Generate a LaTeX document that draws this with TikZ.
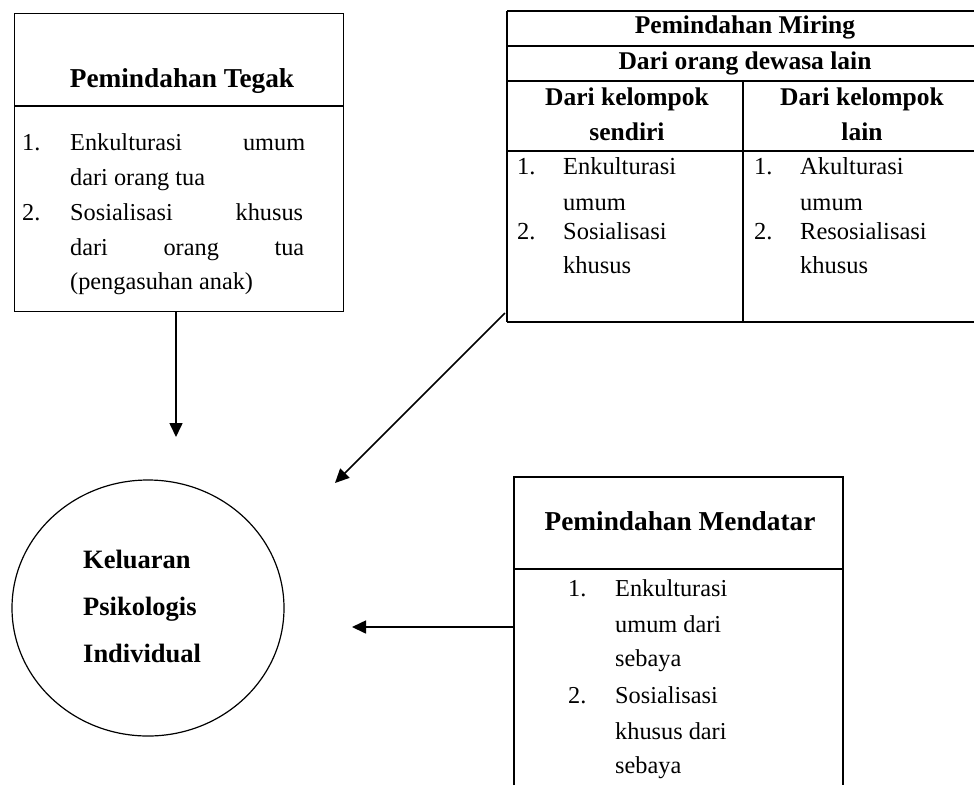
\documentclass[tikz,border=0pt]{standalone}
\usepackage{fontspec}
\setmainfont{Liberation Serif}
\usetikzlibrary{arrows.meta,shapes.geometric}
\begin{document}
\begin{tikzpicture}[x=1pt,y=-1pt,
  boxline/.style={line width=1.2pt},
  frame/.style={draw, line width=1.2pt, inner sep=0pt, anchor=north west},
  ghost/.style={inner sep=0pt, anchor=north west},
  itm/.style={anchor=base west, inner sep=0pt, font=\fontsize{24.3}{30}\selectfont},
  tim/.style={anchor=base west, inner sep=0pt, font=\fontsize{24.5}{30}\selectfont},
  head/.style={anchor=base, inner sep=0pt, font=\bfseries\fontsize{27.3}{30}\selectfont},
  thead/.style={anchor=base, inner sep=0pt, font=\bfseries\fontsize{25.5}{30}\selectfont},
  ctxt/.style={anchor=base west, inner sep=0pt, font=\bfseries\fontsize{26.5}{30}\selectfont},
  arr/.style={-{Triangle[length=14pt,width=13pt]}, line width=1.6pt}]
\useasboundingbox (0,0) rectangle (974,785);

% ---- Pemindahan Tegak ----
\node[frame, minimum width=329pt, minimum height=298pt] (tegak) at (14,13) {};
\draw[boxline] (14,106) -- (343,106);
\node[head] (tegakT) at (182,87) {Pemindahan Tegak};
\node[itm] (t1n) at (22,150) {1.};
\node[itm] (t1a) at (70,150) {\hbox to 235pt{Enkulturasi\hfill umum}};
\node[itm] (t1b) at (70,185) {dari orang tua};
\node[itm] (t2n) at (22,220) {2.};
\node[itm] (t2a) at (70,220) {\hbox to 233pt{Sosialisasi\hfill khusus}};
\node[itm] (t2b) at (70,255) {\hbox to 234pt{dari\hfill orang\hfill tua}};
\node[itm] (t2c) at (70,289) {(pengasuhan anak)};

% ---- Pemindahan Miring ----
\node[ghost, minimum width=467pt, minimum height=311pt] (miring) at (507,11) {};
\draw[boxline] (507,11) -- (974,11);
\draw[boxline] (507,46) -- (974,46);
\draw[boxline] (507,81) -- (974,81);
\draw[boxline] (507,151) -- (974,151);
\draw[boxline] (507,322) -- (974,322);
\draw[boxline] (507,11) -- (507,322);
\draw[boxline] (743,81) -- (743,322);
\node[thead] (mT1) at (745,33) {Pemindahan Miring};
\node[thead] (mT2) at (745,69) {Dari orang dewasa lain};
\node[thead] (mL1) at (627,105) {Dari kelompok};
\node[thead] (mL2) at (627,140) {sendiri};
\node[thead] (mR1) at (862,105) {Dari kelompok};
\node[thead] (mR2) at (862,140) {lain};
\node[tim] (ml1n) at (517,174) {1.};
\node[tim] (ml1a) at (563,174) {Enkulturasi};
\node[tim] (ml1b) at (563,210) {umum};
\node[tim] (ml2n) at (517,239) {2.};
\node[tim] (ml2a) at (563,239) {Sosialisasi};
\node[tim] (ml2b) at (563,273) {khusus};
\node[tim] (mr1n) at (754,174) {1.};
\node[tim] (mr1a) at (800,174) {Akulturasi};
\node[tim] (mr1b) at (800,210) {umum};
\node[tim] (mr2n) at (754,239) {2.};
\node[tim] (mr2a) at (800,239) {Resosialisasi};
\node[tim] (mr2b) at (800,273) {khusus};

% ---- Pemindahan Mendatar ----
\node[ghost, minimum width=329pt, minimum height=308pt] (mendatar) at (514,477) {};
\draw[boxline] (514,785) -- (514,477) -- (843,477) -- (843,785);
\draw[boxline] (514,569) -- (843,569);
\node[head] (mdT) at (680,530) {Pemindahan Mendatar};
\node[itm] (d1n) at (568,596) {1.};
\node[itm] (d1a) at (615,596) {Enkulturasi};
\node[itm] (d1b) at (615,632) {umum dari};
\node[itm] (d1c) at (615,666) {sebaya};
\node[itm] (d2n) at (568,703) {2.};
\node[itm] (d2a) at (615,703) {Sosialisasi};
\node[itm] (d2b) at (615,739) {khusus dari};
\node[itm] (d2c) at (615,773) {sebaya};

% ---- Keluaran Psikologis Individual ----
\node[draw, ellipse, line width=1.2pt, minimum width=272pt, minimum height=256pt, inner sep=0pt] (out) at (148,608) {};
\node[ctxt] (o1) at (83,568) {Keluaran};
\node[ctxt] (o2) at (83,615) {Psikologis};
\node[ctxt] (o3) at (83,662) {Individual};

% ---- connectors ----
\coordinate (tstart) at (176,311);
\coordinate (ttip) at (176,437);
\coordinate (mstart) at (505,313);
\coordinate (mtip) at (335,483);
\coordinate (hstart) at (514,627);
\coordinate (htip) at (352,627);
\draw[arr] (tstart) -- (ttip);
\draw[arr] (mstart) -- (mtip);
\draw[arr] (hstart) -- (htip);
\end{tikzpicture}
\end{document}
